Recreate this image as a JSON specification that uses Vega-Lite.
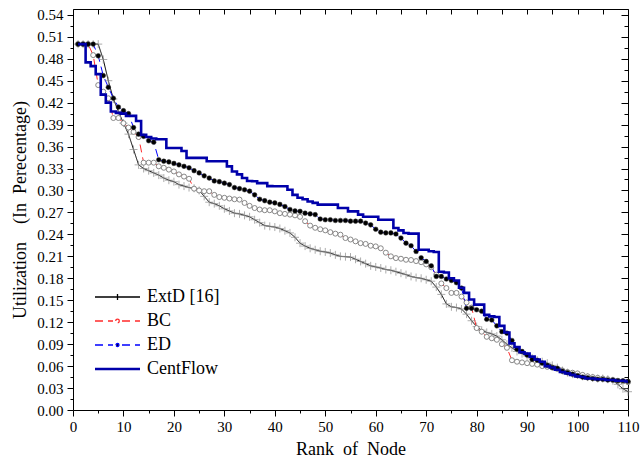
{
"$schema": "https://vega.github.io/schema/vega-lite/v6.json",
"width": 555, "height": 401,
"autosize": {"type": "none"},
"padding": {"left": 73, "top": 9, "right": 13, "bottom": 56},
"background": "white",
"config": {"view": {"stroke": null}, "font": "Liberation Serif, Times New Roman, serif",
 "style": {"guide-label": {"font": "Liberation Serif, Times New Roman, serif"}, "guide-title": {"font": "Liberation Serif, Times New Roman, serif"}},
 "axis": {"labelFont": "Liberation Serif, Times New Roman, serif", "titleFont": "Liberation Serif, Times New Roman, serif", "labelColor": "black", "titleColor": "black", "domainColor": "black", "tickColor": "black", "grid": false, "titleFontWeight": "normal", "domainWidth": 1, "tickWidth": 1, "labelFontSize": 15, "titleFontSize": 18},
 "legend": {"labelFont": "Liberation Serif, Times New Roman, serif"}},
"data": {"values": [
{"s":"ExtD [16]","r":1,"v":0.5},{"s":"ExtD [16]","r":2,"v":0.5},{"s":"ExtD [16]","r":3,"v":0.5},{"s":"ExtD [16]","r":4,"v":0.5},{"s":"ExtD [16]","r":5,"v":0.5},{"s":"ExtD [16]","r":6,"v":0.479},{"s":"ExtD [16]","r":7,"v":0.45},{"s":"ExtD [16]","r":8,"v":0.425},{"s":"ExtD [16]","r":9,"v":0.408},{"s":"ExtD [16]","r":10,"v":0.392},
{"s":"ExtD [16]","r":11,"v":0.377},{"s":"ExtD [16]","r":12,"v":0.356},{"s":"ExtD [16]","r":13,"v":0.335},{"s":"ExtD [16]","r":14,"v":0.33},{"s":"ExtD [16]","r":15,"v":0.327},{"s":"ExtD [16]","r":16,"v":0.324},{"s":"ExtD [16]","r":17,"v":0.321},{"s":"ExtD [16]","r":18,"v":0.317},{"s":"ExtD [16]","r":19,"v":0.314},{"s":"ExtD [16]","r":20,"v":0.312},
{"s":"ExtD [16]","r":21,"v":0.308},{"s":"ExtD [16]","r":22,"v":0.306},{"s":"ExtD [16]","r":23,"v":0.304},{"s":"ExtD [16]","r":24,"v":0.303},{"s":"ExtD [16]","r":25,"v":0.3},{"s":"ExtD [16]","r":26,"v":0.292},{"s":"ExtD [16]","r":27,"v":0.284},{"s":"ExtD [16]","r":28,"v":0.282},{"s":"ExtD [16]","r":29,"v":0.279},{"s":"ExtD [16]","r":30,"v":0.275},
{"s":"ExtD [16]","r":31,"v":0.272},{"s":"ExtD [16]","r":32,"v":0.269},{"s":"ExtD [16]","r":33,"v":0.268},{"s":"ExtD [16]","r":34,"v":0.266},{"s":"ExtD [16]","r":35,"v":0.264},{"s":"ExtD [16]","r":36,"v":0.26},{"s":"ExtD [16]","r":37,"v":0.256},{"s":"ExtD [16]","r":38,"v":0.252},{"s":"ExtD [16]","r":39,"v":0.251},{"s":"ExtD [16]","r":40,"v":0.25},
{"s":"ExtD [16]","r":41,"v":0.248},{"s":"ExtD [16]","r":42,"v":0.245},{"s":"ExtD [16]","r":43,"v":0.242},{"s":"ExtD [16]","r":44,"v":0.236},{"s":"ExtD [16]","r":45,"v":0.228},{"s":"ExtD [16]","r":46,"v":0.224},{"s":"ExtD [16]","r":47,"v":0.221},{"s":"ExtD [16]","r":48,"v":0.219},{"s":"ExtD [16]","r":49,"v":0.217},{"s":"ExtD [16]","r":50,"v":0.216},
{"s":"ExtD [16]","r":51,"v":0.2145},{"s":"ExtD [16]","r":52,"v":0.212},{"s":"ExtD [16]","r":53,"v":0.21},{"s":"ExtD [16]","r":54,"v":0.2095},{"s":"ExtD [16]","r":55,"v":0.209},{"s":"ExtD [16]","r":56,"v":0.206},{"s":"ExtD [16]","r":57,"v":0.203},{"s":"ExtD [16]","r":58,"v":0.2},{"s":"ExtD [16]","r":59,"v":0.197},{"s":"ExtD [16]","r":60,"v":0.1955},
{"s":"ExtD [16]","r":61,"v":0.194},{"s":"ExtD [16]","r":62,"v":0.192},{"s":"ExtD [16]","r":63,"v":0.191},{"s":"ExtD [16]","r":64,"v":0.189},{"s":"ExtD [16]","r":65,"v":0.187},{"s":"ExtD [16]","r":66,"v":0.185},{"s":"ExtD [16]","r":67,"v":0.1825},{"s":"ExtD [16]","r":68,"v":0.181},{"s":"ExtD [16]","r":69,"v":0.18},{"s":"ExtD [16]","r":70,"v":0.178},
{"s":"ExtD [16]","r":71,"v":0.176},{"s":"ExtD [16]","r":72,"v":0.168},{"s":"ExtD [16]","r":73,"v":0.158},{"s":"ExtD [16]","r":74,"v":0.145},{"s":"ExtD [16]","r":75,"v":0.141},{"s":"ExtD [16]","r":76,"v":0.14},{"s":"ExtD [16]","r":77,"v":0.138},{"s":"ExtD [16]","r":78,"v":0.131},{"s":"ExtD [16]","r":79,"v":0.122},{"s":"ExtD [16]","r":80,"v":0.114},
{"s":"ExtD [16]","r":81,"v":0.109},{"s":"ExtD [16]","r":82,"v":0.106},{"s":"ExtD [16]","r":83,"v":0.104},{"s":"ExtD [16]","r":84,"v":0.101},{"s":"ExtD [16]","r":85,"v":0.096},{"s":"ExtD [16]","r":86,"v":0.09},{"s":"ExtD [16]","r":87,"v":0.085},{"s":"ExtD [16]","r":88,"v":0.08},{"s":"ExtD [16]","r":89,"v":0.077},{"s":"ExtD [16]","r":90,"v":0.074},
{"s":"ExtD [16]","r":91,"v":0.071},{"s":"ExtD [16]","r":92,"v":0.068},{"s":"ExtD [16]","r":93,"v":0.066},{"s":"ExtD [16]","r":94,"v":0.064},{"s":"ExtD [16]","r":95,"v":0.061},{"s":"ExtD [16]","r":96,"v":0.058},{"s":"ExtD [16]","r":97,"v":0.054},{"s":"ExtD [16]","r":98,"v":0.051},{"s":"ExtD [16]","r":99,"v":0.049},{"s":"ExtD [16]","r":100,"v":0.048},
{"s":"ExtD [16]","r":101,"v":0.046},{"s":"ExtD [16]","r":102,"v":0.045},{"s":"ExtD [16]","r":103,"v":0.044},{"s":"ExtD [16]","r":104,"v":0.043},{"s":"ExtD [16]","r":105,"v":0.043},{"s":"ExtD [16]","r":106,"v":0.042},{"s":"ExtD [16]","r":107,"v":0.04},{"s":"ExtD [16]","r":108,"v":0.035},{"s":"ExtD [16]","r":109,"v":0.029},{"s":"ExtD [16]","r":110,"v":0.025},
{"s":"BC","r":1,"v":0.5},{"s":"BC","r":2,"v":0.5},{"s":"BC","r":3,"v":0.5},{"s":"BC","r":4,"v":0.485},{"s":"BC","r":5,"v":0.444},{"s":"BC","r":6,"v":0.435},{"s":"BC","r":7,"v":0.426},{"s":"BC","r":8,"v":0.399},{"s":"BC","r":9,"v":0.399},{"s":"BC","r":10,"v":0.392},
{"s":"BC","r":11,"v":0.386},{"s":"BC","r":12,"v":0.38},{"s":"BC","r":13,"v":0.373},{"s":"BC","r":14,"v":0.338},{"s":"BC","r":15,"v":0.338},{"s":"BC","r":16,"v":0.338},{"s":"BC","r":17,"v":0.333},{"s":"BC","r":18,"v":0.331},{"s":"BC","r":19,"v":0.3285},{"s":"BC","r":20,"v":0.326},
{"s":"BC","r":21,"v":0.322},{"s":"BC","r":22,"v":0.319},{"s":"BC","r":23,"v":0.316},{"s":"BC","r":24,"v":0.3025},{"s":"BC","r":25,"v":0.3},{"s":"BC","r":26,"v":0.299},{"s":"BC","r":27,"v":0.299},{"s":"BC","r":28,"v":0.294},{"s":"BC","r":29,"v":0.291},{"s":"BC","r":30,"v":0.29},
{"s":"BC","r":31,"v":0.289},{"s":"BC","r":32,"v":0.288},{"s":"BC","r":33,"v":0.2875},{"s":"BC","r":34,"v":0.283},{"s":"BC","r":35,"v":0.279},{"s":"BC","r":36,"v":0.276},{"s":"BC","r":37,"v":0.274},{"s":"BC","r":38,"v":0.273},{"s":"BC","r":39,"v":0.273},{"s":"BC","r":40,"v":0.2715},
{"s":"BC","r":41,"v":0.269},{"s":"BC","r":42,"v":0.268},{"s":"BC","r":43,"v":0.267},{"s":"BC","r":44,"v":0.266},{"s":"BC","r":45,"v":0.264},{"s":"BC","r":46,"v":0.258},{"s":"BC","r":47,"v":0.252},{"s":"BC","r":48,"v":0.249},{"s":"BC","r":49,"v":0.247},{"s":"BC","r":50,"v":0.2455},
{"s":"BC","r":51,"v":0.243},{"s":"BC","r":52,"v":0.241},{"s":"BC","r":53,"v":0.2396},{"s":"BC","r":54,"v":0.235},{"s":"BC","r":55,"v":0.233},{"s":"BC","r":56,"v":0.2305},{"s":"BC","r":57,"v":0.228},{"s":"BC","r":58,"v":0.227},{"s":"BC","r":59,"v":0.2245},{"s":"BC","r":60,"v":0.2236},
{"s":"BC","r":61,"v":0.221},{"s":"BC","r":62,"v":0.215},{"s":"BC","r":63,"v":0.21},{"s":"BC","r":64,"v":0.2076},{"s":"BC","r":65,"v":0.2067},{"s":"BC","r":66,"v":0.2053},{"s":"BC","r":67,"v":0.205},{"s":"BC","r":68,"v":0.2035},{"s":"BC","r":69,"v":0.202},{"s":"BC","r":70,"v":0.199},
{"s":"BC","r":71,"v":0.195},{"s":"BC","r":72,"v":0.185},{"s":"BC","r":73,"v":0.173},{"s":"BC","r":74,"v":0.1666},{"s":"BC","r":75,"v":0.16},{"s":"BC","r":76,"v":0.16},{"s":"BC","r":77,"v":0.155},{"s":"BC","r":78,"v":0.147},{"s":"BC","r":79,"v":0.14},{"s":"BC","r":80,"v":0.112},
{"s":"BC","r":81,"v":0.107},{"s":"BC","r":82,"v":0.1},{"s":"BC","r":83,"v":0.098},{"s":"BC","r":84,"v":0.096},{"s":"BC","r":85,"v":0.09},{"s":"BC","r":86,"v":0.085},{"s":"BC","r":87,"v":0.068},{"s":"BC","r":88,"v":0.066},{"s":"BC","r":89,"v":0.065},{"s":"BC","r":90,"v":0.064},
{"s":"BC","r":91,"v":0.063},{"s":"BC","r":92,"v":0.062},{"s":"BC","r":93,"v":0.06},{"s":"BC","r":94,"v":0.059},{"s":"BC","r":95,"v":0.058},{"s":"BC","r":96,"v":0.056},{"s":"BC","r":97,"v":0.054},{"s":"BC","r":98,"v":0.052},{"s":"BC","r":99,"v":0.051},{"s":"BC","r":100,"v":0.05},
{"s":"BC","r":101,"v":0.048},{"s":"BC","r":102,"v":0.046},{"s":"BC","r":103,"v":0.045},{"s":"BC","r":104,"v":0.044},{"s":"BC","r":105,"v":0.043},{"s":"BC","r":106,"v":0.042},{"s":"BC","r":107,"v":0.041},{"s":"BC","r":108,"v":0.04},{"s":"BC","r":109,"v":0.039},{"s":"BC","r":110,"v":0.038},
{"s":"ED","r":1,"v":0.5},{"s":"ED","r":2,"v":0.5},{"s":"ED","r":3,"v":0.5},{"s":"ED","r":4,"v":0.5},{"s":"ED","r":5,"v":0.484},{"s":"ED","r":6,"v":0.457},{"s":"ED","r":7,"v":0.441},{"s":"ED","r":8,"v":0.426},{"s":"ED","r":9,"v":0.414},{"s":"ED","r":10,"v":0.409},
{"s":"ED","r":11,"v":0.405},{"s":"ED","r":12,"v":0.386},{"s":"ED","r":13,"v":0.377},{"s":"ED","r":14,"v":0.374},{"s":"ED","r":15,"v":0.368},{"s":"ED","r":16,"v":0.366},{"s":"ED","r":17,"v":0.342},{"s":"ED","r":18,"v":0.34},{"s":"ED","r":19,"v":0.339},{"s":"ED","r":20,"v":0.337},
{"s":"ED","r":21,"v":0.335},{"s":"ED","r":22,"v":0.333},{"s":"ED","r":23,"v":0.331},{"s":"ED","r":24,"v":0.327},{"s":"ED","r":25,"v":0.324},{"s":"ED","r":26,"v":0.32},{"s":"ED","r":27,"v":0.317},{"s":"ED","r":28,"v":0.313},{"s":"ED","r":29,"v":0.312},{"s":"ED","r":30,"v":0.31},
{"s":"ED","r":31,"v":0.308},{"s":"ED","r":32,"v":0.304},{"s":"ED","r":33,"v":0.3025},{"s":"ED","r":34,"v":0.301},{"s":"ED","r":35,"v":0.299},{"s":"ED","r":36,"v":0.294},{"s":"ED","r":37,"v":0.288},{"s":"ED","r":38,"v":0.286},{"s":"ED","r":39,"v":0.284},{"s":"ED","r":40,"v":0.283},
{"s":"ED","r":41,"v":0.281},{"s":"ED","r":42,"v":0.278},{"s":"ED","r":43,"v":0.274},{"s":"ED","r":44,"v":0.272},{"s":"ED","r":45,"v":0.2715},{"s":"ED","r":46,"v":0.269},{"s":"ED","r":47,"v":0.268},{"s":"ED","r":48,"v":0.267},{"s":"ED","r":49,"v":0.261},{"s":"ED","r":50,"v":0.26},
{"s":"ED","r":51,"v":0.26},{"s":"ED","r":52,"v":0.259},{"s":"ED","r":53,"v":0.259},{"s":"ED","r":54,"v":0.259},{"s":"ED","r":55,"v":0.258},{"s":"ED","r":56,"v":0.258},{"s":"ED","r":57,"v":0.258},{"s":"ED","r":58,"v":0.2555},{"s":"ED","r":59,"v":0.253},{"s":"ED","r":60,"v":0.247},
{"s":"ED","r":61,"v":0.243},{"s":"ED","r":62,"v":0.242},{"s":"ED","r":63,"v":0.242},{"s":"ED","r":64,"v":0.2405},{"s":"ED","r":65,"v":0.235},{"s":"ED","r":66,"v":0.228},{"s":"ED","r":67,"v":0.2245},{"s":"ED","r":68,"v":0.2167},{"s":"ED","r":69,"v":0.208},{"s":"ED","r":70,"v":0.203},
{"s":"ED","r":71,"v":0.197},{"s":"ED","r":72,"v":0.1825},{"s":"ED","r":73,"v":0.1825},{"s":"ED","r":74,"v":0.179},{"s":"ED","r":75,"v":0.177},{"s":"ED","r":76,"v":0.174},{"s":"ED","r":77,"v":0.1666},{"s":"ED","r":78,"v":0.139},{"s":"ED","r":79,"v":0.139},{"s":"ED","r":80,"v":0.137},
{"s":"ED","r":81,"v":0.135},{"s":"ED","r":82,"v":0.124},{"s":"ED","r":83,"v":0.123},{"s":"ED","r":84,"v":0.115},{"s":"ED","r":85,"v":0.107},{"s":"ED","r":86,"v":0.105},{"s":"ED","r":87,"v":0.095},{"s":"ED","r":88,"v":0.083},{"s":"ED","r":89,"v":0.08},{"s":"ED","r":90,"v":0.075},
{"s":"ED","r":91,"v":0.069},{"s":"ED","r":92,"v":0.068},{"s":"ED","r":93,"v":0.064},{"s":"ED","r":94,"v":0.061},{"s":"ED","r":95,"v":0.058},{"s":"ED","r":96,"v":0.057},{"s":"ED","r":97,"v":0.053},{"s":"ED","r":98,"v":0.051},{"s":"ED","r":99,"v":0.049},{"s":"ED","r":100,"v":0.047},
{"s":"ED","r":101,"v":0.045},{"s":"ED","r":102,"v":0.044},{"s":"ED","r":103,"v":0.043},{"s":"ED","r":104,"v":0.042},{"s":"ED","r":105,"v":0.042},{"s":"ED","r":106,"v":0.041},{"s":"ED","r":107,"v":0.041},{"s":"ED","r":108,"v":0.04},{"s":"ED","r":109,"v":0.04},{"s":"ED","r":110,"v":0.039},
{"s":"CentFlow","r":1,"v":0.5},{"s":"CentFlow","r":2,"v":0.5},{"s":"CentFlow","r":3,"v":0.475},{"s":"CentFlow","r":4,"v":0.47},{"s":"CentFlow","r":5,"v":0.459},{"s":"CentFlow","r":6,"v":0.431},{"s":"CentFlow","r":7,"v":0.42},{"s":"CentFlow","r":8,"v":0.408},{"s":"CentFlow","r":9,"v":0.406},{"s":"CentFlow","r":10,"v":0.405},
{"s":"CentFlow","r":11,"v":0.402},{"s":"CentFlow","r":12,"v":0.402},{"s":"CentFlow","r":13,"v":0.395},{"s":"CentFlow","r":14,"v":0.376},{"s":"CentFlow","r":15,"v":0.373},{"s":"CentFlow","r":16,"v":0.371},{"s":"CentFlow","r":17,"v":0.37},{"s":"CentFlow","r":18,"v":0.37},{"s":"CentFlow","r":19,"v":0.358},{"s":"CentFlow","r":20,"v":0.358},
{"s":"CentFlow","r":21,"v":0.358},{"s":"CentFlow","r":22,"v":0.354},{"s":"CentFlow","r":23,"v":0.3445},{"s":"CentFlow","r":24,"v":0.3445},{"s":"CentFlow","r":25,"v":0.3445},{"s":"CentFlow","r":26,"v":0.3445},{"s":"CentFlow","r":27,"v":0.34},{"s":"CentFlow","r":28,"v":0.34},{"s":"CentFlow","r":29,"v":0.34},{"s":"CentFlow","r":30,"v":0.34},
{"s":"CentFlow","r":31,"v":0.333},{"s":"CentFlow","r":32,"v":0.326},{"s":"CentFlow","r":33,"v":0.322},{"s":"CentFlow","r":34,"v":0.317},{"s":"CentFlow","r":35,"v":0.313},{"s":"CentFlow","r":36,"v":0.3126},{"s":"CentFlow","r":37,"v":0.31},{"s":"CentFlow","r":38,"v":0.31},{"s":"CentFlow","r":39,"v":0.306},{"s":"CentFlow","r":40,"v":0.3057},
{"s":"CentFlow","r":41,"v":0.3057},{"s":"CentFlow","r":42,"v":0.3057},{"s":"CentFlow","r":43,"v":0.301},{"s":"CentFlow","r":44,"v":0.294},{"s":"CentFlow","r":45,"v":0.29},{"s":"CentFlow","r":46,"v":0.288},{"s":"CentFlow","r":47,"v":0.285},{"s":"CentFlow","r":48,"v":0.283},{"s":"CentFlow","r":49,"v":0.2806},{"s":"CentFlow","r":50,"v":0.2806},
{"s":"CentFlow","r":51,"v":0.2806},{"s":"CentFlow","r":52,"v":0.2806},{"s":"CentFlow","r":53,"v":0.276},{"s":"CentFlow","r":54,"v":0.276},{"s":"CentFlow","r":55,"v":0.2715},{"s":"CentFlow","r":56,"v":0.2715},{"s":"CentFlow","r":57,"v":0.267},{"s":"CentFlow","r":58,"v":0.264},{"s":"CentFlow","r":59,"v":0.264},{"s":"CentFlow","r":60,"v":0.264},
{"s":"CentFlow","r":61,"v":0.26},{"s":"CentFlow","r":62,"v":0.26},{"s":"CentFlow","r":63,"v":0.26},{"s":"CentFlow","r":64,"v":0.2487},{"s":"CentFlow","r":65,"v":0.2455},{"s":"CentFlow","r":66,"v":0.2419},{"s":"CentFlow","r":67,"v":0.241},{"s":"CentFlow","r":68,"v":0.241},{"s":"CentFlow","r":69,"v":0.219},{"s":"CentFlow","r":70,"v":0.219},
{"s":"CentFlow","r":71,"v":0.217},{"s":"CentFlow","r":72,"v":0.216},{"s":"CentFlow","r":73,"v":0.189},{"s":"CentFlow","r":74,"v":0.188},{"s":"CentFlow","r":75,"v":0.18},{"s":"CentFlow","r":76,"v":0.177},{"s":"CentFlow","r":77,"v":0.167},{"s":"CentFlow","r":78,"v":0.16},{"s":"CentFlow","r":79,"v":0.151},{"s":"CentFlow","r":80,"v":0.144},
{"s":"CentFlow","r":81,"v":0.144},{"s":"CentFlow","r":82,"v":0.13},{"s":"CentFlow","r":83,"v":0.128},{"s":"CentFlow","r":84,"v":0.127},{"s":"CentFlow","r":85,"v":0.115},{"s":"CentFlow","r":86,"v":0.106},{"s":"CentFlow","r":87,"v":0.091},{"s":"CentFlow","r":88,"v":0.086},{"s":"CentFlow","r":89,"v":0.079},{"s":"CentFlow","r":90,"v":0.077},
{"s":"CentFlow","r":91,"v":0.073},{"s":"CentFlow","r":92,"v":0.069},{"s":"CentFlow","r":93,"v":0.066},{"s":"CentFlow","r":94,"v":0.06},{"s":"CentFlow","r":95,"v":0.058},{"s":"CentFlow","r":96,"v":0.055},{"s":"CentFlow","r":97,"v":0.052},{"s":"CentFlow","r":98,"v":0.05},{"s":"CentFlow","r":99,"v":0.048},{"s":"CentFlow","r":100,"v":0.046},
{"s":"CentFlow","r":101,"v":0.045},{"s":"CentFlow","r":102,"v":0.043},{"s":"CentFlow","r":103,"v":0.043},{"s":"CentFlow","r":104,"v":0.042},{"s":"CentFlow","r":105,"v":0.042},{"s":"CentFlow","r":106,"v":0.041},{"s":"CentFlow","r":107,"v":0.041},{"s":"CentFlow","r":108,"v":0.04},{"s":"CentFlow","r":109,"v":0.04},{"s":"CentFlow","r":110,"v":0.039}
]},
"resolve": {"axis": {"x": "independent", "y": "independent"}},
"layer": [
 {"transform": [{"filter": "datum.s !== 'CentFlow'"}],
  "mark": {"type": "line", "strokeWidth": 1},
  "encoding": {
   "x": {"field": "r", "type": "quantitative", "scale": {"domain": [0, 110], "nice": false, "zero": false},
     "axis": {"orient": "bottom", "values": [0,5,10,15,20,25,30,35,40,45,50,55,60,65,70,75,80,85,90,95,100,105,110],
      "labelFont": "Liberation Serif, Times New Roman, serif", "titleFont": "Liberation Serif, Times New Roman, serif",
      "labelExpr": "datum.value % 10 === 0 ? datum.label : ''", "labelFlush": false, "labelOverlap": false,
      "tickSize": {"condition": {"test": "datum.value % 10 === 0", "value": 6}, "value": 3},
      "labelPadding": 3, "title": "Rank\u00a0\u00a0of\u00a0\u00a0Node", "titlePadding": 6}},
   "y": {"field": "v", "type": "quantitative", "scale": {"domain": [0, 0.548], "nice": false},
     "axis": {"orient": "left", "values": [0,0.015,0.03,0.045,0.06,0.075,0.09,0.105,0.12,0.135,0.15,0.165,0.18,0.195,0.21,0.225,0.24,0.255,0.27,0.285,0.3,0.315,0.33,0.345,0.36,0.375,0.39,0.405,0.42,0.435,0.45,0.465,0.48,0.495,0.51,0.525,0.54],
      "labelFont": "Liberation Serif, Times New Roman, serif", "titleFont": "Liberation Serif, Times New Roman, serif",
      "labelExpr": "round(datum.value*1000) % 30 === 0 ? format(datum.value, '.2f') : ''", "labelOverlap": false, "labelFlush": false,
      "tickSize": {"condition": {"test": "round(datum.value*1000) % 30 === 0", "value": 6}, "value": 3},
      "labelPadding": 4, "title": "Utilization\u00a0\u00a0\u00a0\u00a0(In\u00a0\u00a0Perecentage)", "titlePadding": 7}},
   "color": {"field": "s", "type": "nominal",
     "scale": {"domain": ["ExtD [16]", "BC", "ED", "CentFlow"], "range": ["#000000", "#ff2a2a", "#0000ff", "#0000aa"]},
     "legend": {"title": null, "orient": "none", "legendX": 23, "legendY": 279, "padding": 0,
       "symbolSize": 400, "labelOffset": 33, "labelFontSize": 18, "labelColor": "black", "rowPadding": 6,
       "encode": {"symbols": {"update": {
         "shape": {"signal": "datum.value === 'ExtD [16]' ? 'M-1,0L3.5,0M1.25,-0.3L1.25,0.3' : datum.value === 'BC' ? 'M-1,0L0.8,0M1.7,0L3.5,0M1.07,0A0.18,0.18 0 1,1 1.43,0A0.18,0.18 0 1,1 1.07,0' : datum.value === 'ED' ? 'M-1,0L0.8,0M1.7,0L3.5,0M1.1,0A0.15,0.15 0 1,1 1.4,0A0.15,0.15 0 1,1 1.1,0' : 'M-1,0L3.5,0'"},
         "fill": {"signal": "datum.value === 'ED' ? 'black' : datum.value === 'BC' ? 'white' : 'transparent'"},
         "strokeWidth": {"signal": "datum.value === 'CentFlow' ? 2.6 : 1.3"},
         "strokeDash": {"value": []}
       }}}}},
   "strokeDash": {"field": "s", "type": "nominal", "scale": {"domain": ["ExtD [16]", "BC", "ED", "CentFlow"], "range": [[1,0],[8,5],[8,5],[1,0]]}, "legend": null}
  }},
 {"transform": [{"filter": "datum.s === 'ExtD [16]'"}],
  "mark": {"type": "point", "shape": "M-1,0L1,0M0,-1L0,1", "filled": false, "stroke": "#8a8a8a", "strokeWidth": 1, "size": 64},
  "encoding": {"x": {"field": "r", "type": "quantitative", "axis": null}, "y": {"field": "v", "type": "quantitative", "axis": null}}},
 {"transform": [{"filter": "datum.s === 'BC'"}],
  "mark": {"type": "point", "shape": "circle", "filled": true, "fill": "white", "stroke": "#7a7a7a", "strokeWidth": 0.9, "size": 25, "opacity": 1},
  "encoding": {"x": {"field": "r", "type": "quantitative", "axis": null}, "y": {"field": "v", "type": "quantitative", "axis": null}}},
 {"transform": [{"filter": "datum.s === 'ED'"}],
  "mark": {"type": "point", "shape": "circle", "filled": true, "fill": "black", "stroke": "#333", "strokeWidth": 0.5, "size": 22, "opacity": 1},
  "encoding": {"x": {"field": "r", "type": "quantitative", "axis": null}, "y": {"field": "v", "type": "quantitative", "axis": null}}},
 {"transform": [{"filter": "datum.s === 'CentFlow'"}],
  "mark": {"type": "line", "interpolate": "step", "strokeWidth": 2.6},
  "encoding": {
   "x": {"field": "r", "type": "quantitative",
     "axis": {"orient": "top", "values": [0,5,10,15,20,25,30,35,40,45,50,55,60,65,70,75,80,85,90,95,100,105,110], "labels": false, "tickSize": -5, "title": null}},
   "y": {"field": "v", "type": "quantitative",
     "axis": {"orient": "right", "values": [0,0.015,0.03,0.045,0.06,0.075,0.09,0.105,0.12,0.135,0.15,0.165,0.18,0.195,0.21,0.225,0.24,0.255,0.27,0.285,0.3,0.315,0.33,0.345,0.36,0.375,0.39,0.405,0.42,0.435,0.45,0.465,0.48,0.495,0.51,0.525,0.54],
      "labels": false, "title": null,
      "tickSize": {"condition": {"test": "round(datum.value*1000) % 30 === 0", "value": -7}, "value": -4}}},
   "color": {"field": "s", "type": "nominal"}
  }}
]
}
